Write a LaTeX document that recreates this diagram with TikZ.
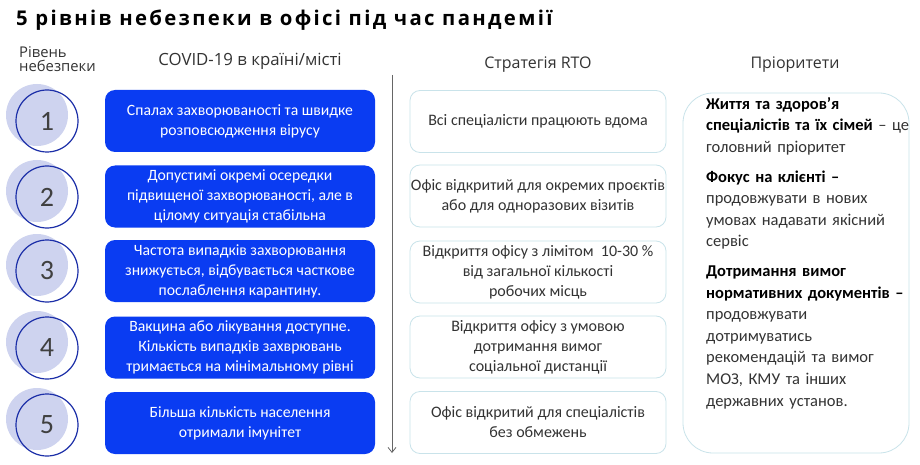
\documentclass[tikz,border=0pt]{standalone}
\usepackage{fontspec}
\setmainfont{Carlito}
\newfontfamily\titlefont[LetterSpace=11.5]{Open Sans}
\newfontfamily\headfont{Open Sans}
\usetikzlibrary{arrows.meta}
\definecolor{boxblue}{HTML}{0A3CF2}
\definecolor{ringblue}{HTML}{1C2FA8}
\definecolor{shadowc}{HTML}{CED3EF}
\definecolor{rtoline}{HTML}{C9E3EA}
\definecolor{txtgrey}{HTML}{333333}
\definecolor{numgrey}{HTML}{404040}
\tikzset{
  covidbox/.style={fill=boxblue, rounded corners=10pt, minimum width=270pt, minimum height=62pt, text=white, align=center, font=\fontsize{15.7}{20}\selectfont, inner sep=0pt},
  rtobox/.style={draw=rtoline, line width=0.8pt, rounded corners=10pt, minimum width=256pt, minimum height=62pt, text=txtgrey, align=center, font=\fontsize{16}{20}\selectfont, inner sep=0pt},
  ring/.style={circle, draw=ringblue, line width=1.2pt, minimum size=62pt, inner sep=0pt, text=numgrey, font=\fontsize{28}{30}\selectfont},
  shade/.style={circle, fill=shadowc, minimum size=62pt, inner sep=0pt},
  header/.style={text=txtgrey, font=\headfont\fontsize{16}{16}\selectfont, align=center, inner sep=0pt},
}
\begin{document}
\begin{tikzpicture}[x=1pt,y=-1pt]
\useasboundingbox (0,0) rectangle (920,465);
\fill[white] (0,0) rectangle (920,465);
% title
\node[anchor=base west, inner sep=0pt, text=black, font=\titlefont\bfseries\fontsize{20.3}{24}\selectfont] (title) at (16,26) {5 рівнів небезпеки в офісі під час пандемії};
% headers
\node[header, anchor=north west, align=left, font=\headfont\fontsize{14.8}{14}\selectfont] (hlev) at (19,46.5) {Рівень\\небезпеки};
\node[header, anchor=base, font=\headfont\fontsize{16.8}{16}\selectfont] (hcov) at (250,66) {COVID-19 в країні/місті};
\node[header, anchor=base] (hrto) at (538,69) {Стратегія RTO};
\node[header, anchor=base] (hpri) at (795,69) {Пріоритети};
% arrow
\coordinate (atop) at (392,75);
\coordinate (abot) at (392,453);
\draw[gray!80!black, line width=0.8pt, -{Straight Barb[length=5pt,width=8pt]}] (atop) -- (abot);
% circles
\foreach \i/\y in {1/121, 2/197, 3/271, 4/348, 5/425}{
  \node[shade] (s\i) at (37,\y-6) {};
  \node[ring] (n\i) at (47,\y) {\i};
}
% covid boxes
\node[covidbox] (c1) at (240,121) {Спалах захворюваності та швидке\\розповсюдження вірусу};
\node[covidbox] (c2) at (240,196.5) {Допустимі окремі осередки\\підвищеної захворюваності, але в\\цілому ситуація стабільна};
\node[covidbox] (c3) at (240,271) {Частота випадків захворювання\\знижується, відбувається часткове\\послаблення карантину.};
\node[covidbox] (c4) at (240,347.5) {Вакцина або лікування доступне.\\Кількість випадків захврювань\\тримається на мінімальному рівні};
\node[covidbox] (c5) at (240,423) {Більша кількість населення\\отримали імунітет};
% rto boxes
\node[rtobox] (r1) at (538,121.5) {Всі спеціалісти працюють вдома};
\node[rtobox] (r2) at (538,196) {Офіс відкритий для окремих проєктів\\або для одноразових візитів};
\node[rtobox] (r3) at (538,272) {Відкриття офісу з лімітом\ \ 10-30 \%\\від загальної кількості\\робочих місць};
\node[rtobox] (r4) at (538,347) {Відкриття офісу з умовою\\дотримання вимог\\соціальної дистанції};
\node[rtobox] (r5) at (538,422.5) {Офіс відкритий для спеціалістів\\без обмежень};
% priorities
\node[draw=rtoline, line width=0.8pt, rounded corners=30pt, minimum width=226pt, minimum height=360pt, inner sep=0pt] (pbox) at (796,273) {};
\node[anchor=north west, inner sep=0pt, text width=230pt, align=left, text=txtgrey, font=\fontsize{16.5}{21.6}\selectfont] (ptext) at (706,97) {%
{\color{black}\bfseries Життя та здоров’я\\спеціалістів та їх сімей} – це\\головний пріоритет\par\vspace{8pt}
{\color{black}\bfseries Фокус на клієнті –}\\продовжувати в нових\\умовах надавати якісний\\сервіс\par\vspace{8pt}
{\color{black}\bfseries Дотримання вимог\\нормативних документів –}\\продовжувати\\дотримуватись\\рекомендацій та вимог\\МОЗ, КМУ та інших\\державних установ.};
\end{tikzpicture}
\end{document}
